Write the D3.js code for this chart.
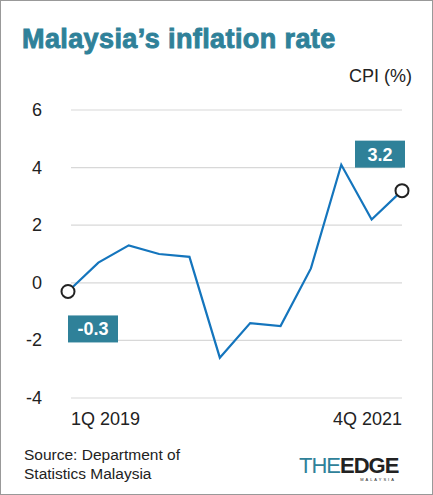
<!DOCTYPE html>
<html lang="en">
<head>
<meta charset="UTF-8" />
<script src="https://d3js.org/d3.v7.min.js"></script>
<style>
  body { margin: 0; background: #fff; }
  text { font-family: "Liberation Sans", Arial, sans-serif; }
</style>
</head>
<body>
<svg width="433" height="495"></svg>
<script>
// CPI quarterly, 1Q 2019 .. 4Q 2021
const quarters = ["1Q 2019","2Q 2019","3Q 2019","4Q 2019","1Q 2020","2Q 2020","3Q 2020","4Q 2020","1Q 2021","2Q 2021","3Q 2021","4Q 2021"];
const cpi = [-0.3, 0.7, 1.3, 1.0, 0.9, -2.6, -1.4, -1.5, 0.5, 4.1, 2.2, 3.2];
const yTicks = [6, 4, 2, 0, -2, -4];

const svg = d3.select("svg");
const teal = "#2f8199";

svg.append("rect").attr("x", 0.5).attr("y", 0.5).attr("width", 432).attr("height", 494)
  .attr("fill", "none").attr("stroke", "#999");

svg.append("text").attr("x", 22).attr("y", 48).attr("fill", teal)
  .attr("font-size", 27).attr("font-weight", "bold")
  .attr("stroke", teal).attr("stroke-width", 0.9).attr("letter-spacing", 0.4)
  .text("Malaysia’s inflation rate");
svg.append("text").attr("x", 412).attr("y", 82).attr("text-anchor", "end")
  .attr("font-size", 18).attr("fill", "#222").text("CPI (%)");

const x = d3.scalePoint().domain(quarters).range([68, 402]);
const y = d3.scaleLinear().domain([-4, 6]).range([398, 110]);

// gridlines + labels
svg.append("g").selectAll("line").data(yTicks).join("line")
  .attr("x1", 71).attr("x2", 402).attr("y1", d => y(d)).attr("y2", d => y(d))
  .attr("stroke", "#d8d8d8").attr("stroke-width", 1.2);
svg.append("g").selectAll("text").data(yTicks).join("text")
  .attr("x", 42).attr("y", d => y(d) + 6).attr("text-anchor", "end")
  .attr("font-size", 18).attr("fill", "#222").text(d => d);

svg.append("path").datum(cpi)
  .attr("d", d3.line().x((d, i) => x(quarters[i])).y(d => y(d)))
  .attr("fill", "none").attr("stroke", "#1475bd").attr("stroke-width", 2.2);

const ends = [0, cpi.length - 1];
svg.append("g").selectAll("circle").data(ends).join("circle")
  .attr("cx", i => x(quarters[i])).attr("cy", i => y(cpi[i])).attr("r", 6.5)
  .attr("fill", "#fff").attr("stroke", "#222").attr("stroke-width", 2);

// value callouts
const callouts = [{i: 0, dx: 0, dy: 24}, {i: cpi.length - 1, dx: -47, dy: -50}];
callouts.forEach(c => {
  const cx = x(quarters[c.i]) + c.dx, cy = y(cpi[c.i]) + c.dy;
  const g = svg.append("g");
  g.append("rect").attr("x", cx).attr("y", cy).attr("width", 50).attr("height", 27).attr("fill", teal);
  g.append("text").attr("x", cx + 25).attr("y", cy + 20).attr("text-anchor", "middle")
    .attr("fill", "#fff").attr("font-size", 18).attr("font-weight", "bold").text(cpi[c.i].toFixed(1));
});

svg.append("text").attr("x", 71).attr("y", 425).attr("font-size", 18).attr("fill", "#222").text(quarters[0]);
svg.append("text").attr("x", 402).attr("y", 425).attr("text-anchor", "end").attr("font-size", 18).attr("fill", "#222").text(quarters[quarters.length - 1]);

svg.append("text").attr("x", 24).attr("y", 460).attr("font-size", 15.5).attr("fill", "#222").text("Source: Department of");
svg.append("text").attr("x", 24).attr("y", 479).attr("font-size", 15.5).attr("fill", "#222").text("Statistics Malaysia");

// logo
const logo = svg.append("text").attr("x", 299).attr("y", 473).attr("font-size", 22).attr("letter-spacing", -1);
logo.append("tspan").attr("fill", teal).attr("font-weight", "normal").text("THE");
logo.append("tspan").attr("fill", "#222").attr("font-weight", "900").text("EDGE");
svg.append("text").attr("x", 378).attr("y", 481).attr("text-anchor", "middle").attr("font-size", 4)
  .attr("letter-spacing", 2).attr("fill", "#222").text("MALAYSIA");
</script>
</body>
</html>
